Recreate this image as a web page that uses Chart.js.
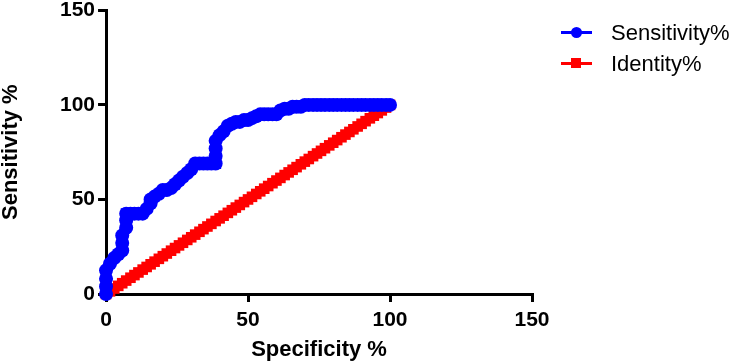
<!DOCTYPE html>
<html lang="en">
<head>
    <meta charset="UTF-8">
    <title>ROC</title>
    <script src="https://cdn.jsdelivr.net/npm/chart.js"></script>
    <style>
        body {
            font-family: "Liberation Sans", Arial, sans-serif;
            margin: 0;
            padding: 0;
            background-color: white;
        }
        .wrap {
            position: relative;
            width: 734px;
            height: 363px;
        }
        .legend {
            position: absolute;
            left: 561px;
            top: 17px;
            font-size: 22px;
            color: #000;
        }
        .legend .row {
            position: relative;
            height: 31px;
            line-height: 31px;
            padding-left: 50px;
        }
        .legend .ln {
            position: absolute;
            left: 0;
            top: 14px;
            width: 31px;
            height: 3px;
        }
        .legend .mk {
            position: absolute;
        }
    </style>
</head>
<body>
    <div class="wrap">
        <canvas id="rocChart" width="734" height="363"></canvas>
        <div class="legend">
            <div class="row"><span class="ln" style="background:#0000ff"></span><span class="mk" style="left:10px;top:10px;width:11px;height:11px;border-radius:50%;background:#0000ff"></span>Sensitivity%</div>
            <div class="row"><span class="ln" style="background:#ff0000"></span><span class="mk" style="left:10px;top:10px;width:10px;height:10px;background:#ff0000"></span>Identity%</div>
        </div>
    </div>

    <script>
        // ROC curve points (100% - specificity, sensitivity)
        const rocX = [0, 0, 0, 0, 1.4, 2.9, 4.3, 5.7, 5.7, 5.7, 7.1, 7.1, 7.1, 8.6, 10, 11.4, 12.9, 14.3, 15.7, 15.7, 17.1, 18.6, 20, 21.4, 22.9, 24.3, 25.7, 27.1, 28.6, 30, 31.4, 32.9, 34.3, 35.7, 37.1, 38.6, 38.6, 38.6, 38.6, 40, 41.4, 42.9, 44.3, 45.7, 47.1, 48.6, 50, 51.4, 52.9, 54.3, 55.7, 57.1, 58.6, 60, 61.4, 62.9, 64.3, 65.7, 67.1, 68.6, 70, 71.4, 72.9, 74.3, 75.7, 77.1, 78.6, 80, 81.4, 82.9, 84.3, 85.7, 87.1, 88.6, 90, 91.4, 92.9, 94.3, 95.7, 97.1, 98.6, 100];
        const rocY = [0, 4, 8, 12.5, 16, 19, 21, 23, 27, 31, 35, 39, 42.5, 42.5, 42.5, 42.5, 42.5, 45, 48, 50, 51.5, 53, 55, 55, 56, 58, 60, 62, 64, 66, 69, 69, 69, 69, 69, 69, 73, 77, 81, 84, 86, 89, 90, 91, 91, 92, 92, 93, 94, 95, 95, 95, 95, 95, 97, 98, 98, 99, 99, 99, 100, 100, 100, 100, 100, 100, 100, 100, 100, 100, 100, 100, 100, 100, 100, 100, 100, 100, 100, 100, 100, 100];
        // identity line points
        const identX = [0, 1.4, 2.9, 4.3, 5.7, 7.1, 8.6, 10, 11.4, 12.9, 14.3, 15.7, 17.1, 18.6, 20, 21.4, 22.9, 24.3, 25.7, 27.1, 28.6, 30, 31.4, 32.9, 34.3, 35.7, 37.1, 38.6, 40, 41.4, 42.9, 44.3, 45.7, 47.1, 48.6, 50, 51.4, 52.9, 54.3, 55.7, 57.1, 58.6, 60, 61.4, 62.9, 64.3, 65.7, 67.1, 68.6, 70, 71.4, 72.9, 74.3, 75.7, 77.1, 78.6, 80, 81.4, 82.9, 84.3, 85.7, 87.1, 88.6, 90, 91.4, 92.9, 94.3, 95.7, 97.1, 98.6, 100];
        const axisTicks = [0, 50, 100, 150];

        const rocPts = rocX.map((x, i) => ({ x: x, y: rocY[i] }));
        const identPts = identX.map(x => ({ x: x, y: x }));

        const titleFont = { family: '"Liberation Sans", Arial', size: 22, weight: 'bold', lineHeight: 1.0 };

        function axis(title, titlePad, tickPad, tickLh) {
            return {
                type: 'linear',
                min: 0,
                max: 150,
                afterBuildTicks: (s) => { s.ticks = axisTicks.map(v => ({ value: v })); },
                ticks: { color: '#000', font: { family: '"Liberation Sans", Arial', size: 21, weight: 'bold', lineHeight: tickLh }, padding: tickPad, maxRotation: 0 },
                grid: { display: true, drawOnChartArea: false, drawTicks: true, tickLength: 8, color: '#000', lineWidth: 3 },
                border: { display: true, color: '#000', width: 3 },
                title: { display: true, text: title, color: '#000', font: titleFont, padding: titlePad }
            };
        }

        new Chart(document.getElementById('rocChart').getContext('2d'), {
            type: 'scatter',
            data: {
                datasets: [
                    {
                        label: 'Sensitivity%',
                        data: rocPts,
                        showLine: true,
                        borderColor: '#0000ff',
                        backgroundColor: '#0000ff',
                        borderWidth: 11,
                        pointRadius: 7,
                        pointBorderWidth: 0,
                        pointStyle: 'circle',
                        clip: false
                    },
                    {
                        label: 'Identity%',
                        data: identPts,
                        showLine: true,
                        borderColor: '#ff0000',
                        backgroundColor: '#ff0000',
                        borderWidth: 9,
                        pointRadius: 7.5,
                        pointBorderWidth: 0,
                        pointStyle: 'rect',
                        clip: false
                    }
                ]
            },
            options: {
                responsive: false,
                animation: false,
                layout: { padding: { left: 0, right: 202, top: 0, bottom: 0 } },
                plugins: {
                    legend: { display: false },
                    tooltip: { enabled: false }
                },
                scales: {
                    x: axis('Specificity %', { top: 0, bottom: 2 }, 8, 1.0),
                    y: axis('Sensitivity %', { top: 0, bottom: 35 }, 3, 0.7)
                }
            }
        });
    </script>
</body>
</html>
